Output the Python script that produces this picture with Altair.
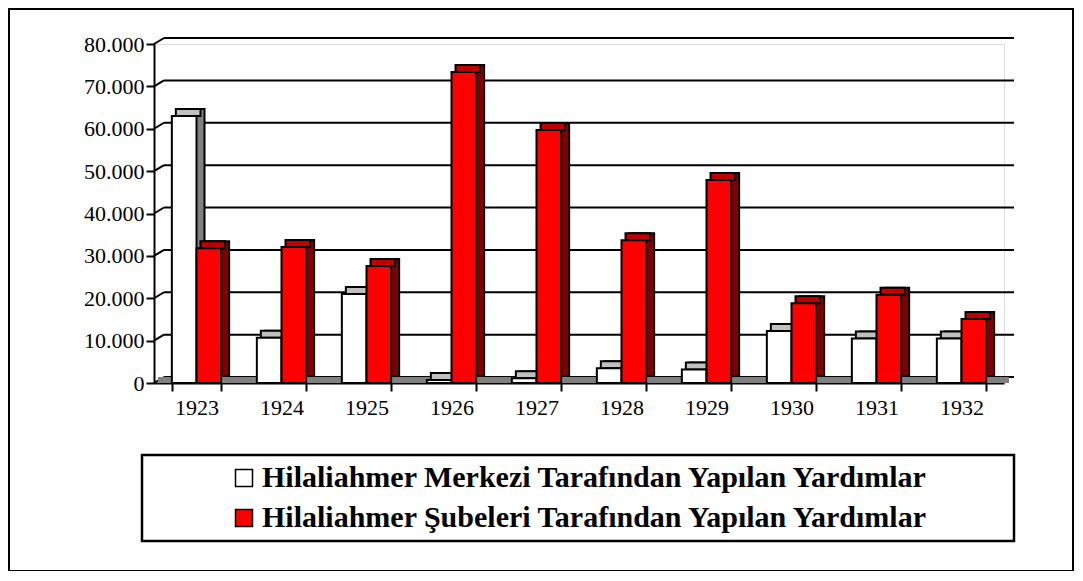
import altair as alt
import pandas as pd

years = ["1923", "1924", "1925", "1926", "1927", "1928", "1929", "1930", "1931", "1932"]
merkezi = [63000, 10700, 21000, 700, 1100, 3500, 3200, 12300, 10500, 10500]
subeleri = [31800, 32100, 27600, 73400, 59700, 33700, 47900, 18800, 20800, 15100]
series_names = [
    "Hilaliahmer Merkezi Tarafından Yapılan Yardımlar",
    "Hilaliahmer Şubeleri Tarafından Yapılan Yardımlar",
]
front_colors = ["#ffffff", "#ff0000"]
top_colors = ["#c0c0c0", "#c00000"]
side_colors = ["#808080", "#800000"]
grid_values = [0, 10000, 20000, 30000, 40000, 50000, 60000, 70000, 80000]

rows = []
for i, y in enumerate(years):
    rows.append({"year": y, "series": series_names[0], "value": merkezi[i]})
    rows.append({"year": y, "series": series_names[1], "value": subeleri[i]})
df = pd.DataFrame(rows)
grid_df = pd.DataFrame({"v": grid_values})
one = pd.DataFrame({"z": [0]})

W, H = 850, 339
PAD_IN, PAD_OUT = 0.42, 0.21
step = W / (len(years) - PAD_IN + 2 * PAD_OUT)
band = step * (1 - PAD_IN)
DX, DY = 8, 7
GX, GY = 10, 6
FONT = "Liberation Serif"

xscale = alt.Scale(domain=years, paddingInner=PAD_IN, paddingOuter=PAD_OUT)
yscale = alt.Scale(domain=[0, 80000], nice=False, zero=True)
x_axis = alt.Axis(
    title=None, labelAngle=0, tickBand="extent",
    labelFont=FONT, labelFontSize=22, labelColor="black", labelPadding=6,
    tickSize=8, tickColor="black", tickWidth=2,
    domainColor="black", domainWidth=2,
)


def off_scale(shift):
    return alt.Scale(domain=series_names, range=[shift, shift + band], paddingInner=0, paddingOuter=0)


frame = alt.Chart(one).mark_rect(fill=None, stroke="black", strokeWidth=2).encode(
    x=alt.value(-145), x2=alt.value(919), y=alt.value(-35), y2=alt.value(527)
)
legend_box = alt.Chart(one).mark_rect(fill="white", stroke="black", strokeWidth=2.5).encode(
    x=alt.value(-12), x2=alt.value(860), y=alt.value(411), y2=alt.value(497)
)

grid = alt.Chart(grid_df).mark_rule(color="black", strokeWidth=2, yOffset=-GY).encode(
    x=alt.value(GX), x2=alt.value(W + GX),
    y=alt.Y("v:Q", scale=yscale, axis=alt.Axis(
        title=None, values=grid_values, grid=False,
        labelExpr="replace(format(datum.value, ','), ',', '.')",
        labelFont=FONT, labelFontSize=22, labelColor="black", labelPadding=2,
        tickSize=8, tickColor="black", tickWidth=2,
        domainColor="black", domainWidth=2,
    )),
)
slant = alt.Chart(grid_df).mark_rule(color="black", strokeWidth=2, y2Offset=-GY).encode(
    x=alt.value(0), x2=alt.value(GX), y=alt.Y("v:Q", scale=yscale), y2="v:Q"
)
floor = alt.Chart(one).mark_rect(color="#808080", yOffset=-GY).encode(
    x=alt.value(4), x2=alt.value(W + 5), y=alt.Y("z:Q", scale=yscale), y2="z:Q"
)

side = alt.Chart(df).mark_bar(yOffset=-DY, y2Offset=-DY, stroke="black", strokeWidth=2).encode(
    x=alt.X("year:N", scale=xscale, axis=x_axis),
    xOffset=alt.XOffset("series:N", scale=off_scale(DX)),
    y=alt.Y("value:Q", scale=yscale),
    color=alt.Color("series:N", scale=alt.Scale(domain=series_names, range=side_colors), legend=None),
)
top = alt.Chart(df).mark_bar(yOffset=-DY, y2Offset=0, stroke="black", strokeWidth=2).encode(
    x=alt.X("year:N", scale=xscale, axis=x_axis),
    xOffset=alt.XOffset("series:N", scale=off_scale(DX / 2)),
    y=alt.Y("value:Q", scale=yscale),
    y2="value:Q",
    color=alt.Color("series:N", scale=alt.Scale(domain=series_names, range=top_colors), legend=None),
)
front = alt.Chart(df).mark_bar(stroke="black", strokeWidth=2).encode(
    x=alt.X("year:N", scale=xscale, axis=x_axis),
    xOffset=alt.XOffset("series:N", scale=off_scale(0)),
    y=alt.Y("value:Q", scale=yscale),
    color=alt.Color("series:N", scale=alt.Scale(domain=series_names, range=front_colors), legend=alt.Legend(
        title=None, orient="none", legendX=75, legendY=419,
        symbolType="square", symbolSize=289, symbolStrokeColor="black", symbolStrokeWidth=1.5,
        labelFont=FONT, labelFontSize=30, labelFontWeight="bold", labelColor="black",
        rowPadding=10, labelOffset=3, labelLimit=0, padding=0,
    )),
)

chart = alt.layer(frame, legend_box, grid, slant, floor, side, top, front).resolve_scale(
    color="independent", xOffset="independent"
).properties(
    width=W, height=H,
    padding={"left": 146, "top": 36, "right": 71, "bottom": 188},
    autosize=alt.AutoSizeParams(type="none"),
).configure_view(stroke=None).configure(background="white")

chart.save("out.html", embed_options={"renderer": "svg", "actions": False})
